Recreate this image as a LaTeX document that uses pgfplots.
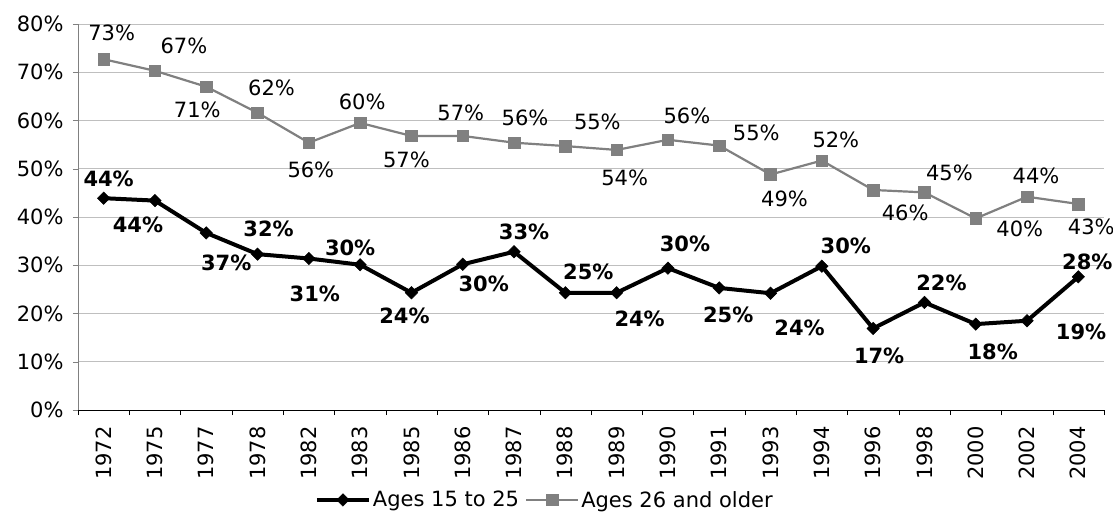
\documentclass[border=0pt]{standalone}
\usepackage{fontspec}
\setmainfont{DejaVu Sans}
\usepackage{pgfplots}
\usepackage{pgfplotstable}
\pgfplotsset{compat=1.18}
\newcommand\fs{\fontsize{21}{25}\selectfont}
\definecolor{oldgray}{HTML}{808080}
\definecolor{gridgray}{HTML}{BFBFBF}

% x = category index, lbl = label shown, dx/dy = label offset in pt (dy up)
\pgfplotstableread{
x y lbl dx dy
0 43.9 44 5 19
1 43.4 44 -17 -24
2 36.7 37 20 -30
3 32.3 32 11 25
4 31.4 31 6 -35
5 30.1 30 -10 17
6 24.3 24 -7 -23
7 30.2 30 21 -20
8 32.8 33 10 20
9 24.3 25 23 21
10 24.3 24 23 -26
11 29.4 30 17 24
12 25.3 25 9 -27
13 24.2 24 29 -35
14 29.8 30 24 20
15 16.9 17 6 -27
16 22.3 22 17 20
17 17.8 18 17 -28
18 18.5 19 54 -11
19 27.6 28 9 15
}\young

\pgfplotstableread{
x y lbl dx dy
0 72.7 73 8 26
1 70.3 67 29 25
2 67.0 71 -9 -23
3 61.6 62 14 25
4 55.4 56 2 -27
5 59.5 60 2 21
6 56.8 57 -5 -24
7 56.8 57 -2 23
8 55.4 56 11 25
9 54.7 55 32 24
10 53.9 54 8 -28
11 56.0 56 19 24
12 54.8 55 37 13
13 48.8 49 14 -24
14 51.7 52 14 21
15 45.6 46 32 -23
16 45.1 45 25 20
17 39.7 40 44 -10
18 44.2 44 9 21
19 42.7 43 13 -23
}\older

\begin{document}
\begin{tikzpicture}
\begin{axis}[
    scale only axis,
    width=1026pt, height=386pt,
    xmin=-0.5, xmax=19.5,
    ymin=0, ymax=80,
    clip=false,
    axis lines=left,
    axis line style={-},
    x axis line style={black},
    y axis line style={color=oldgray},
    tick align=outside,
    xtick={0,...,19},
    xticklabels={1972,1975,1977,1978,1982,1983,1985,1986,1987,1988,1989,1990,1991,1993,1994,1996,1998,2000,2002,2004},
    major x tick style={draw=none},
    minor xtick={-0.5,0.5,...,19.5},
    minor tick length=5pt,
    minor x tick style={black},
    ytick={0,10,...,80},
    yticklabels={0\%,10\%,20\%,30\%,40\%,50\%,60\%,70\%,80\%},
    major tick length=5pt,
    y tick style={color=oldgray},
    ymajorgrids,
    grid style={gridgray, line width=1pt},
    tick label style={font=\fs},
    xticklabel style={rotate=90, anchor=east, xshift=-8pt},
    yticklabel style={xshift=-6pt},
    point meta=explicit symbolic,
    legend columns=2,
    legend style={at={(0.455,-0.233)}, anchor=center, draw=none, font=\fs,
        /tikz/every even column/.append style={column sep=4pt}},
    legend image code/.code={
        \draw[mark repeat=2, mark phase=2] plot coordinates {(0pt,0pt) (26pt,0pt) (52pt,0pt)};
    },
]
\addplot[black, line width=4pt, mark=square*, mark size=4.4pt,
    mark options={rotate=45, line width=0.5pt},
    visualization depends on={\thisrow{dx} \as \dx},
    visualization depends on={\thisrow{dy} \as \dy},
    nodes near coords={\pgfplotspointmeta\%},
    every node near coord/.append style={font=\fs\bfseries, text=black, anchor=center,
        xshift=\dx pt, yshift=\dy pt, inner sep=0pt},
] table[x=x, y=y, meta=lbl] {\young};
\addlegendentry{Ages 15 to 25}

\addplot[color=oldgray, line width=2.2pt, mark=square*, mark size=5.8pt,
    mark options={line width=0.5pt},
    visualization depends on={\thisrow{dx} \as \dx},
    visualization depends on={\thisrow{dy} \as \dy},
    nodes near coords={\pgfplotspointmeta\%},
    every node near coord/.append style={font=\fs, text=black, anchor=center,
        xshift=\dx pt, yshift=\dy pt, inner sep=0pt},
] table[x=x, y=y, meta=lbl] {\older};
\addlegendentry{Ages 26 and older}
\end{axis}
\pgfresetboundingbox
\path[use as bounding box] (-78pt,-110pt) rectangle (1035pt,410pt);
\end{tikzpicture}
\end{document}
